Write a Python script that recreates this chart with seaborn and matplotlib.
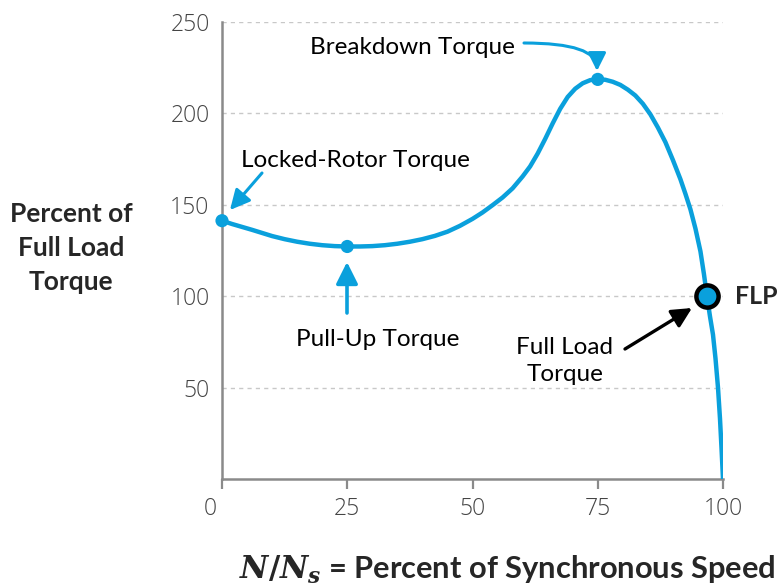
import matplotlib
matplotlib.use("Agg")
import matplotlib.pyplot as plt
import seaborn as sns
import pandas as pd
from matplotlib import transforms

# ---- data ----
speed = [0, 2, 4, 6, 8, 10, 12.5, 15, 17.5, 20, 22.5, 25, 27.5, 30, 32.5, 35,
         37.5, 40, 42.5, 45, 47.5, 50, 52, 54, 56, 58, 60, 61.5, 63, 64.5, 66,
         67.5, 69, 70.5, 72, 73.5, 75, 76.5, 78, 79.5, 81, 82.5, 84, 85.5, 87,
         88.5, 90, 91.5, 92.5, 93.5, 94.5, 95.5, 96.2, 96.8, 97.4, 98, 98.5,
         99, 99.4, 99.7, 100]
torque = [141.3, 139.5, 137.9, 136.3, 134.6, 132.9, 131.2, 129.8, 128.7, 127.9,
          127.4, 127.2, 127.2, 127.4, 127.9, 128.7, 129.8, 131.2, 133, 135.3,
          138.5, 142.3, 145.8, 149.8, 154, 159, 165.5, 171, 178, 186, 194.5,
          202.5, 209, 213.5, 216.5, 218.2, 218.6, 218.4, 217.3, 215.6, 213,
          209.8, 205.3, 199.5, 192.3, 184.3, 174.5, 164, 156, 147.5, 137,
          124.5, 112, 100, 89, 79, 66, 50, 33, 17, 0]

key_x = [0, 25, 75]
key_y = [141.3, 127.2, 218.6]
flp_x = [96.8]
flp_y = [100]

x_ticks = [0, 25, 50, 75, 100]
y_ticks = [50, 100, 150, 200, 250]

BLUE = "#0aa0dc"
GREY = "#8a8a8a"

sns.set_theme(style="white")
plt.rcParams["font.family"] = ["Lato", "DejaVu Sans"]
plt.rcParams["mathtext.fontset"] = "custom"
plt.rcParams["mathtext.it"] = "DejaVu Serif:italic:bold"
plt.rcParams["mathtext.rm"] = "DejaVu Serif:bold"

fig = plt.figure(figsize=(7.79, 5.86), dpi=100)
ax = fig.add_axes([222 / 779, 1 - 479 / 586, (723 - 222) / 779, (479 - 22) / 586])

df = pd.DataFrame({"speed": speed, "torque": torque})
sns.lineplot(data=df, x="speed", y="torque", ax=ax, color=BLUE, linewidth=3.2,
             zorder=3)
sns.scatterplot(x=key_x, y=key_y, ax=ax, color=BLUE, s=90, edgecolor="none",
                zorder=4, clip_on=False)
ax.plot(flp_x, flp_y, "o", markersize=16, markerfacecolor=BLUE,
        markeredgecolor="black", markeredgewidth=3.2, zorder=5, clip_on=False)

ax.set_xlim(0, 100)
ax.set_ylim(0, 250)
ax.set_xticks(x_ticks)
ax.set_yticks(y_ticks)
ax.set_xticklabels([str(v) for v in x_ticks])
ax.set_yticklabels([str(v) for v in y_ticks])

for sp in ["top", "right"]:
    ax.spines[sp].set_visible(False)
for sp in ["left", "bottom"]:
    ax.spines[sp].set_color(GREY)
    ax.spines[sp].set_linewidth(1.8)

ax.tick_params(axis="x", length=7, width=1.6, color=GREY, pad=6,
               labelsize=16.5, labelcolor="#444444", direction="out", bottom=True)
ax.tick_params(axis="y", length=0, pad=9, labelsize=16.5, labelcolor="#444444")
for lbl in ax.get_xticklabels() + ax.get_yticklabels():
    lbl.set_family(["Open Sans", "DejaVu Sans"])
    lbl.set_fontweight(300)
# shift the "0" label left as in the reference
ax.get_xticklabels()[0].set_transform(
    ax.get_xticklabels()[0].get_transform()
    + transforms.ScaledTranslation(-12 / 100, 0, fig.dpi_scale_trans))

ax.yaxis.grid(True, linestyle=(0, (3, 3)), color="#c8c8c8", linewidth=1.0)
ax.xaxis.grid(False)
ax.set_xlabel("")
ax.set_ylabel("")

tf = dict(fontsize=17.5, color="black", family=["Lato", "DejaVu Sans"])

def px(xp, yp):
    return (xp / 779, 1 - yp / 586)

fig.text(*px(412, 48), "Breakdown Torque", ha="center", va="center", **tf)
fig.text(*px(355, 160), "Locked-Rotor Torque", ha="center", va="center", **tf)
fig.text(*px(378, 339), "Pull-Up Torque", ha="center", va="center", **tf)
fig.text(*px(565, 361), "Full Load\nTorque", ha="center", va="center",
         linespacing=1.4, **tf)
fig.text(*px(735, 296), "FLP", ha="left", va="center", fontsize=18,
         fontweight="bold", family=["Lato", "DejaVu Sans"])

fig.text(*px(71, 248), "Percent of\nFull Load\nTorque", ha="center",
         va="center", fontsize=19, fontweight="bold", linespacing=1.5,
         family=["Lato", "DejaVu Sans"])
fig.text(*px(507, 570), r"$N/N_s$ = Percent of Synchronous Speed",
         ha="center", va="center", fontsize=22.2, fontweight="bold",
         family=["Lato", "DejaVu Sans"])

HEAD = "-|>,head_length=1.0,head_width=0.5"

arrow_blue = dict(arrowstyle=HEAD, color=BLUE, lw=2.2, shrinkA=0, shrinkB=0)
ax.annotate("", xy=px(230, 210), xytext=px(262, 173),
            xycoords="figure fraction", textcoords="figure fraction",
            arrowprops=arrow_blue)
ax.annotate("", xy=px(347, 262), xytext=px(347, 313),
            xycoords="figure fraction", textcoords="figure fraction",
            arrowprops=dict(arrow_blue, lw=2.6,
                            arrowstyle="-|>,head_length=1.1,head_width=0.55"))
ax.annotate("", xy=px(597, 71), xytext=px(524, 43),
            xycoords="figure fraction", textcoords="figure fraction",
            arrowprops=dict(arrow_blue,
                            arrowstyle="-|>,head_length=0.9,head_width=0.45",
                            connectionstyle="angle3,angleA=0,angleB=90"))
ax.annotate("", xy=px(692, 308), xytext=px(625, 349),
            xycoords="figure fraction", textcoords="figure fraction",
            arrowprops=dict(arrowstyle=HEAD, color="black", lw=2.4,
                            shrinkA=0, shrinkB=0))

fig.savefig("out.png", dpi=100)
